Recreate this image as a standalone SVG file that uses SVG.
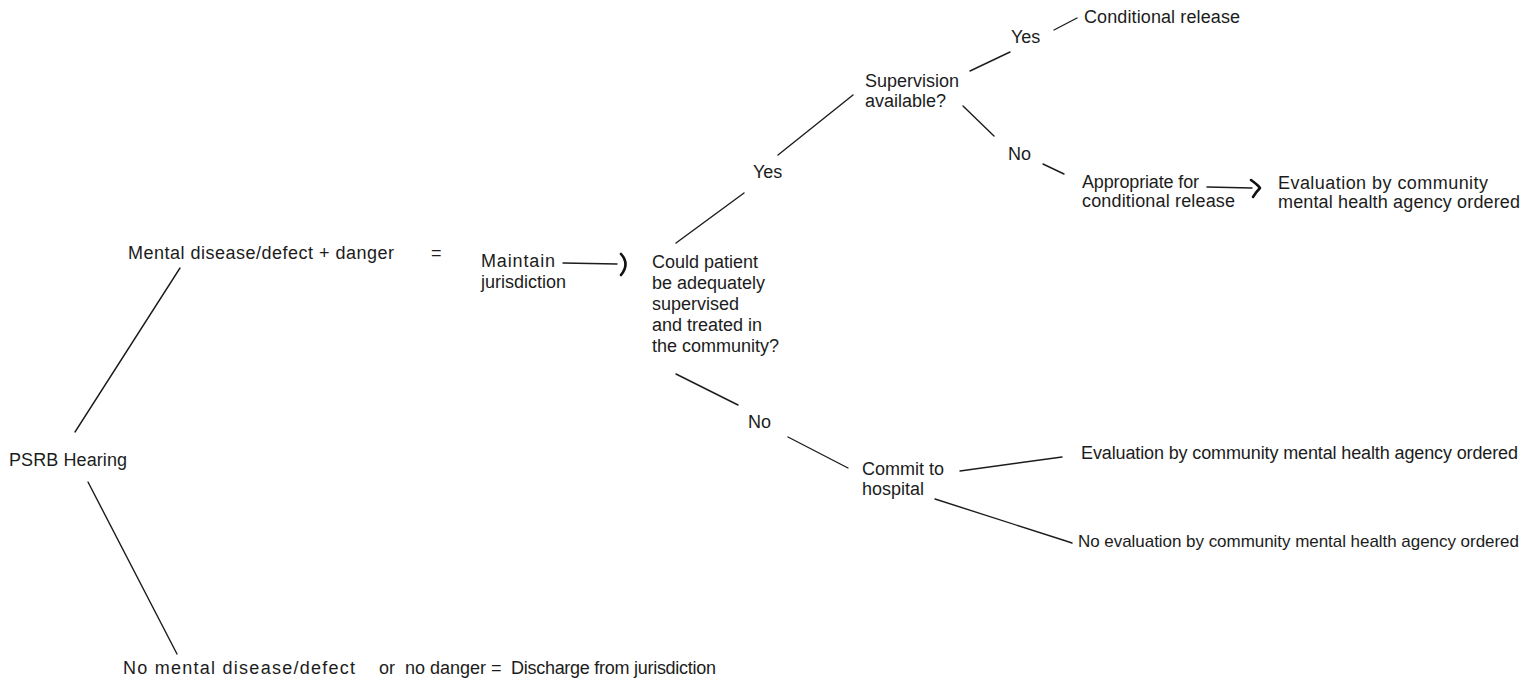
<svg xmlns="http://www.w3.org/2000/svg" width="1523" height="680" viewBox="0 0 1523 680">
<style>
text{font-family:"Liberation Sans",Arial,sans-serif;font-size:18px;fill:#1c1c1c}
.ln{stroke:#1c1c1c;stroke-width:1.4;fill:none;stroke-linecap:round}
.hd{stroke:#111;stroke-width:2.6;fill:none;stroke-linecap:round;stroke-linejoin:round}
.sm{font-size:17px}
</style>
<rect width="1523" height="680" fill="#fff"/>
<g id="connectors">
<line class="ln" x1="75" y1="432" x2="180" y2="268"/>
<line class="ln" x1="88" y1="482" x2="177" y2="654"/>
<line class="ln" x1="563" y1="263" x2="617" y2="264"/>
<path class="hd" d="M621,254 Q630,264 621,275"/>
<line class="ln" x1="676" y1="243" x2="744" y2="193"/>
<line class="ln" x1="778" y1="155" x2="853" y2="95"/>
<line class="ln" x1="970" y1="71" x2="1010" y2="52"/>
<line class="ln" x1="1054" y1="30" x2="1077" y2="18"/>
<line class="ln" x1="963" y1="106" x2="994" y2="136"/>
<line class="ln" x1="1043" y1="164" x2="1064" y2="174"/>
<line class="ln" x1="1207" y1="187" x2="1252" y2="188"/>
<path class="hd" d="M1251,180 Q1258,185 1260,188 Q1256,192 1253,197"/>
<line class="ln" x1="676" y1="374" x2="738" y2="405"/>
<line class="ln" x1="788" y1="437" x2="848" y2="468"/>
<line class="ln" x1="960" y1="471" x2="1062" y2="457"/>
<path class="ln" d="M935,499 L1066,541 L1072,543"/>
</g>
<g id="psrb"><text x="9" y="466" textLength="118">PSRB Hearing</text></g>
<g id="mental"><text x="128" y="259" textLength="266">Mental disease/defect + danger</text><text x="431" y="259">=</text></g>
<g id="maintain"><text x="481" y="267" textLength="74">Maintain</text><text x="481" y="288">jurisdiction</text></g>
<g id="could">
<text x="652" y="268">Could patient</text>
<text x="652" y="289">be adequately</text>
<text x="652" y="310">supervised</text>
<text x="652" y="331">and treated in</text>
<text x="652" y="352">the community?</text>
</g>
<g id="yes1"><text x="753" y="178">Yes</text></g>
<g id="supervision"><text x="865" y="87">Supervision</text><text x="865" y="107">available?</text></g>
<g id="yes2"><text x="1011" y="43">Yes</text></g>
<g id="conditional"><text x="1084" y="23" textLength="156">Conditional release</text></g>
<g id="no2"><text x="1008" y="160">No</text></g>
<g id="appropriate"><text x="1082" y="188" textLength="117">Appropriate for</text><text x="1082" y="207" textLength="153">conditional release</text></g>
<g id="eval1"><text x="1278" y="189" textLength="210">Evaluation by community</text><text x="1278" y="208" textLength="242">mental health agency ordered</text></g>
<g id="no1"><text x="748" y="428">No</text></g>
<g id="commit"><text x="862" y="475">Commit to</text><text x="862" y="495">hospital</text></g>
<g id="eval2"><text x="1081" y="459" textLength="437">Evaluation by community mental health agency ordered</text></g>
<g id="noeval"><text class="sm" x="1078" y="547" textLength="441">No evaluation by community mental health agency ordered</text></g>
<g id="discharge"><text y="674"><tspan x="123" textLength="232">No mental disease/defect</tspan><tspan x="379">or</tspan><tspan x="405">no danger =</tspan><tspan x="511" textLength="205">Discharge from jurisdiction</tspan></text></g>
</svg>
